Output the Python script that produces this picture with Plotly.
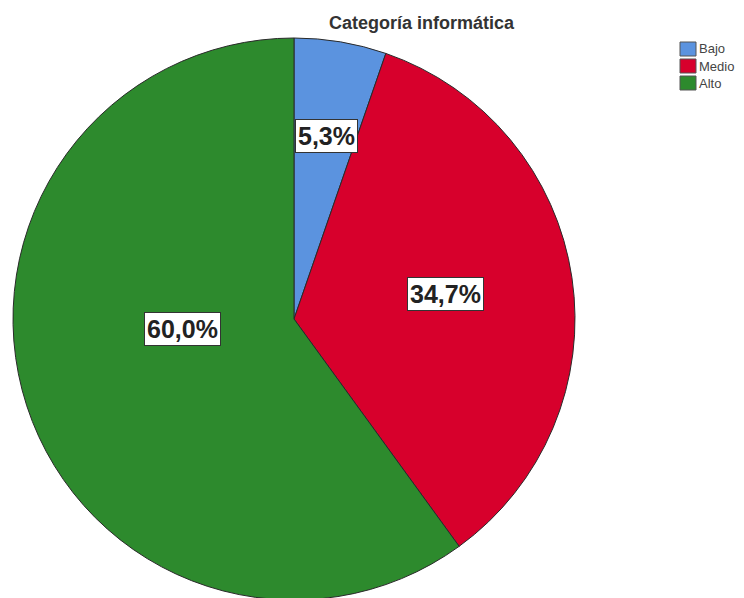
import plotly.graph_objects as go

categories = ["Bajo", "Medio", "Alto"]
values = [5.3, 34.7, 60.0]
pct_labels = ["5,3%", "34,7%", "60,0%"]
title_text = "Categoría informática"

colors = ["#5b93df", "#d7002c", "#2d8a2d"]
W, H = 744, 598
OFF = 8  # page body margin offset
label_px = [(326, 136), (445, 294), (182, 329)]


def px_x(p):
    return (p - OFF) / W


def px_y(p):
    return 1 - (p - OFF) / H


fig = go.Figure(go.Pie(
    labels=categories, values=values, sort=False, direction="clockwise",
    rotation=0, textinfo="none", hoverinfo="label+percent",
    marker=dict(colors=colors, line=dict(color="#2a2a2a", width=1)),
    domain=dict(x=[px_x(13), px_x(575)], y=[px_y(600), px_y(38)]),
    showlegend=False,
))

ann = [dict(text="<b>" + title_text + "</b>", x=px_x(422), y=px_y(23), xref="paper", yref="paper",
            xanchor="center", yanchor="middle", showarrow=False,
            font=dict(family="Liberation Sans, Arial", size=18, color="#333333"))]
for t, (px, py) in zip(pct_labels, label_px):
    ann.append(dict(text="<b>" + t + "</b>", x=px_x(px), y=px_y(py), xref="paper", yref="paper",
                    xanchor="center", yanchor="middle",
                    showarrow=False, bgcolor="white", bordercolor="#333333", borderwidth=1, borderpad=2,
                    font=dict(family="Liberation Sans, Arial", size=25, color="#222222")))

shapes = []
for i, (c, name) in enumerate(zip(colors, categories)):
    y0 = 42 + i * 17
    shapes.append(dict(type="rect", xref="paper", yref="paper", x0=px_x(680), x1=px_x(696),
                       y0=px_y(y0 + 14), y1=px_y(y0), fillcolor=c, line=dict(color="#555555", width=1)))
    ann.append(dict(text=name, x=px_x(697), y=px_y(y0 + 7), xref="paper", yref="paper",
                    xanchor="left", yanchor="middle", showarrow=False,
                    font=dict(family="Liberation Sans, Arial", size=13, color="#444444")))

fig.update_layout(width=W, height=H, margin=dict(l=0, r=0, t=0, b=0),
                  paper_bgcolor="white", plot_bgcolor="white",
                  annotations=ann, shapes=shapes)
fig.write_html("out.html")
